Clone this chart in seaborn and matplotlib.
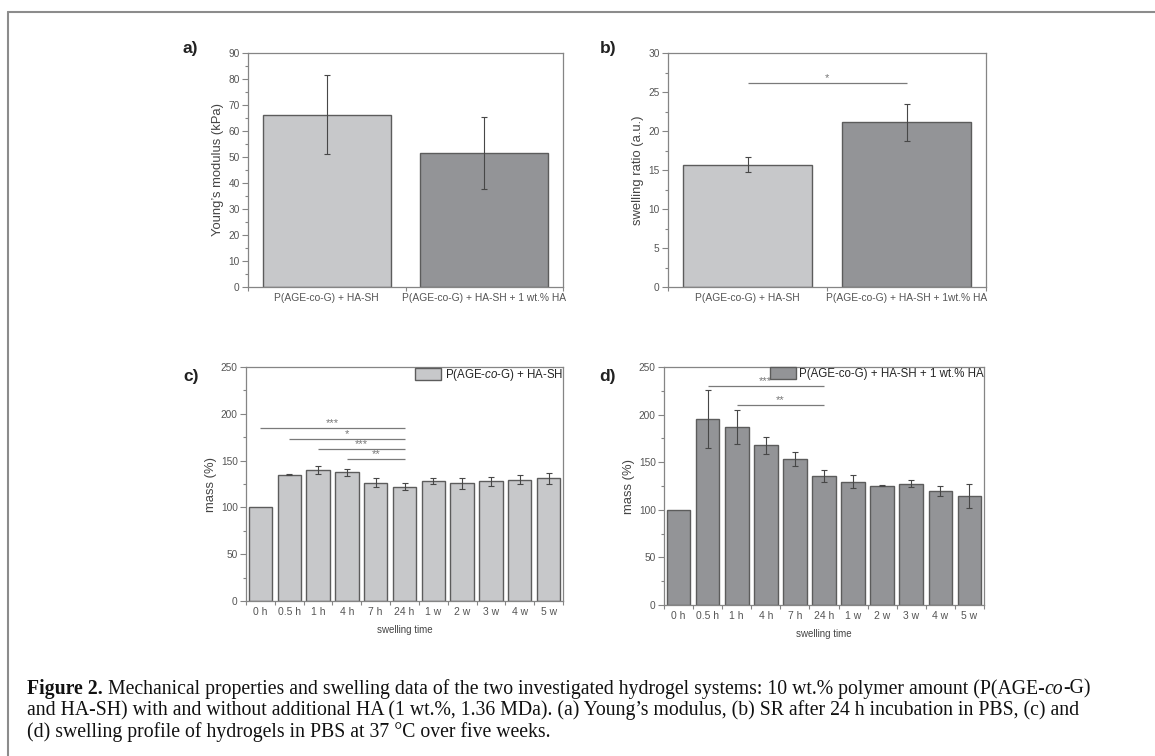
import numpy as np
import pandas as pd
import matplotlib
matplotlib.use("Agg")
import matplotlib.pyplot as plt
import seaborn as sns
from matplotlib.lines import Line2D
from matplotlib.patches import Patch
from matplotlib.ticker import MultipleLocator

# colours
LIGHT = "#c7c8ca"
DARK = "#939497"
EDGE = "#5c5c5c"
SPINE = "#858585"
TEXT = "#555555"

# panel a / b data
groups_a = ["P(AGE-co-G) + HA-SH", "P(AGE-co-G) + HA-SH + 1 wt.% HA"]
groups_b = ["P(AGE-co-G) + HA-SH", "P(AGE-co-G) + HA-SH + 1wt.% HA"]
youngs_mean = [66.2, 51.5]
youngs_err = [15.2, 13.8]
sr_mean = [15.7, 21.1]
sr_err = [1.0, 2.4]

# panel c / d data
times = ["0 h", "0.5 h", "1 h", "4 h", "7 h", "24 h", "1 w", "2 w", "3 w", "4 w", "5 w"]
mass_c = [100, 135.1, 140.1, 137.3, 126.6, 122.0, 128.0, 125.9, 128.0, 129.8, 131.2]
mass_c_err = [0, 1.0, 4.5, 3.3, 4.4, 3.9, 3.2, 5.9, 5.0, 4.8, 5.9]
mass_d = [100, 195.5, 187.0, 167.8, 153.1, 135.7, 129.4, 125.5, 127.6, 120.0, 114.8]
mass_d_err = [0, 30.6, 17.8, 8.9, 7.5, 6.1, 6.8, 1.0, 3.8, 5.0, 12.6]

# significance: (from index, to index, height, stars)
sig_b = [(0, 1, 26.1, "*")]
sig_c = [(0, 5, 185, "***"), (1, 5, 173, "*"), (2, 5, 162, "***"), (3, 5, 151.5, "**")]
sig_d = [(1, 5, 230, "***"), (2, 5, 210, "**")]

sns.set_style("ticks")
plt.rcParams["font.family"] = ["Liberation Sans", "DejaVu Sans"]
plt.rcParams["mathtext.fontset"] = "custom"
plt.rcParams["mathtext.rm"] = "Liberation Sans"
plt.rcParams["mathtext.it"] = "Liberation Sans:italic"

W, H = 1155, 756
fig = plt.figure(figsize=(W / 100, H / 100), dpi=100)


def px_axes(left, top, right, bottom):
    return fig.add_axes([left / W, 1 - bottom / H, (right - left) / W, (bottom - top) / H])


def bar_panel(ax, cats, vals, errs, color, ylim, major, minor, ylabel, ticksize=7.4):
    df = pd.DataFrame({"cat": cats, "val": vals})
    sns.barplot(data=df, x="cat", y="val", color=color, saturation=1, width=0.81,
                edgecolor=EDGE, linewidth=1.0, ax=ax)
    idx = [i for i, e in enumerate(errs) if e > 0]
    ax.errorbar(idx, [vals[i] for i in idx], yerr=[errs[i] for i in idx], fmt="none",
                ecolor="#474747", elinewidth=0.8, capsize=2.5, capthick=0.8, zorder=5)
    n = len(cats)
    ax.set_xlim(-0.5, n - 0.5)
    ax.set_ylim(*ylim)
    ax.yaxis.set_major_locator(MultipleLocator(major))
    ax.yaxis.set_minor_locator(MultipleLocator(minor))
    ax.set_xticks(range(n))
    ax.set_xticklabels(cats)
    ax.set_xticks(np.arange(-0.5, n, 1.0), minor=True)
    ax.tick_params(axis="x", which="major", length=0, pad=4, labelsize=ticksize, labelcolor=TEXT)
    ax.tick_params(axis="x", which="minor", length=3, width=0.8, color=SPINE)
    ax.tick_params(axis="y", which="major", length=4, width=0.8, color=SPINE,
                   labelsize=7.3, labelcolor=TEXT, pad=2)
    ax.tick_params(axis="y", which="minor", length=2, width=0.8, color=SPINE)
    for s in ax.spines.values():
        s.set_color(SPINE)
        s.set_linewidth(0.9)
    ax.set_ylabel(ylabel, fontsize=9.4, color="#444444", labelpad=3)
    ax.set_xlabel("")


def add_sig(ax, sig):
    for i0, i1, y, stars in sig:
        ax.plot([i0, i1], [y, y], color="#7a7a7a", lw=0.9, solid_capstyle="butt")
        ax.text((i0 + i1) / 2, y, stars, ha="center", va="bottom", fontsize=8,
                color="#777777")


# a) Young's modulus
ax_a = px_axes(248, 53, 563, 287)
bar_panel(ax_a, groups_a, youngs_mean, youngs_err, None, (0, 90), 10, 5,
          "Young\u2019s modulus (kPa)")
for p, c in zip(ax_a.patches, [LIGHT, DARK]):
    p.set_facecolor(c)

# b) swelling ratio
ax_b = px_axes(668, 53, 986, 287)
bar_panel(ax_b, groups_b, sr_mean, sr_err, None, (0, 30), 5, 2.5, "swelling ratio (a.u.)")
for p, c in zip(ax_b.patches, [LIGHT, DARK]):
    p.set_facecolor(c)
add_sig(ax_b, sig_b)

# c) swelling profile without HA
ax_c = px_axes(246, 367, 563, 601)
bar_panel(ax_c, times, mass_c, mass_c_err, LIGHT, (0, 250), 50, 25, "mass (%)", ticksize=7.5)
add_sig(ax_c, sig_c)
ax_c.set_xlabel("swelling time", fontsize=7, color="#444444", labelpad=6)
ax_c.legend(handles=[Patch(facecolor=LIGHT, edgecolor=EDGE, lw=1.0)],
            labels=["P(AGE-$\\it{co}$-G) + HA-SH"], loc="upper right", frameon=False,
            fontsize=8.3, borderaxespad=0, borderpad=0, handlelength=2.25, handleheight=1.2,
            handletextpad=0.3)

# d) swelling profile with HA
ax_d = px_axes(664, 367, 984, 605)
bar_panel(ax_d, times, mass_d, mass_d_err, DARK, (0, 250), 50, 25, "mass (%)", ticksize=7.5)
add_sig(ax_d, sig_d)
ax_d.set_xlabel("swelling time", fontsize=7, color="#444444", labelpad=6)
ax_d.legend(handles=[Patch(facecolor=DARK, edgecolor=EDGE, lw=1.0)],
            labels=["P(AGE-co-G) + HA-SH + 1 wt.% HA"], loc="upper right", frameon=False,
            fontsize=8.3, borderaxespad=0, borderpad=0, handlelength=2.25, handleheight=1.2,
            handletextpad=0.3)

# panel letters
for lbl, x, y in [("a)", 190, 49), ("b)", 608, 49), ("c)", 191, 377), ("d)", 608, 377)]:
    fig.text(x / W, 1 - y / H, lbl, fontsize=12.5, fontweight="bold", color="#222222",
             ha="center", va="center")

# page border (top and left only)
fig.add_artist(Line2D([8 / W, 1.0], [1 - 12 / H, 1 - 12 / H], color="#8c8c8c", lw=1.5))
fig.add_artist(Line2D([8 / W, 8 / W], [0.0, 1 - 12 / H], color="#8c8c8c", lw=1.5))

# caption, drawn piece by piece so bold/italic parts can be mixed
cap_font = ["Liberation Serif", "DejaVu Serif"]
cap_size = 14.2
renderer = fig.canvas.get_renderer()


def rich_line(x_px, y_px, pieces):
    x = x_px
    for txt, weight, style in pieces:
        t = fig.text(x / W, 1 - y_px / H, txt, fontsize=cap_size, family=cap_font,
                     fontweight=weight, fontstyle=style, color="#111111", va="center", ha="left")
        x += t.get_window_extent(renderer).width


rich_line(27, 689, [("Figure 2.", "bold", "normal"),
                    (" Mechanical properties and swelling data of the two investigated hydrogel "
                     "systems: 10 wt.% polymer amount (P(AGE-", "normal", "normal"),
                    ("co", "normal", "italic"), ("-G)", "normal", "normal")])
rich_line(27, 710.5, [("and HA-SH) with and without additional HA (1 wt.%, 1.36 MDa). (a) Young\u2019s "
                       "modulus, (b) SR after 24 h incubation in PBS, (c) and", "normal", "normal")])
rich_line(27, 732, [("(d) swelling profile of hydrogels in PBS at 37 \u00b0C over five weeks.",
                     "normal", "normal")])

fig.savefig("out.png", dpi=100)
